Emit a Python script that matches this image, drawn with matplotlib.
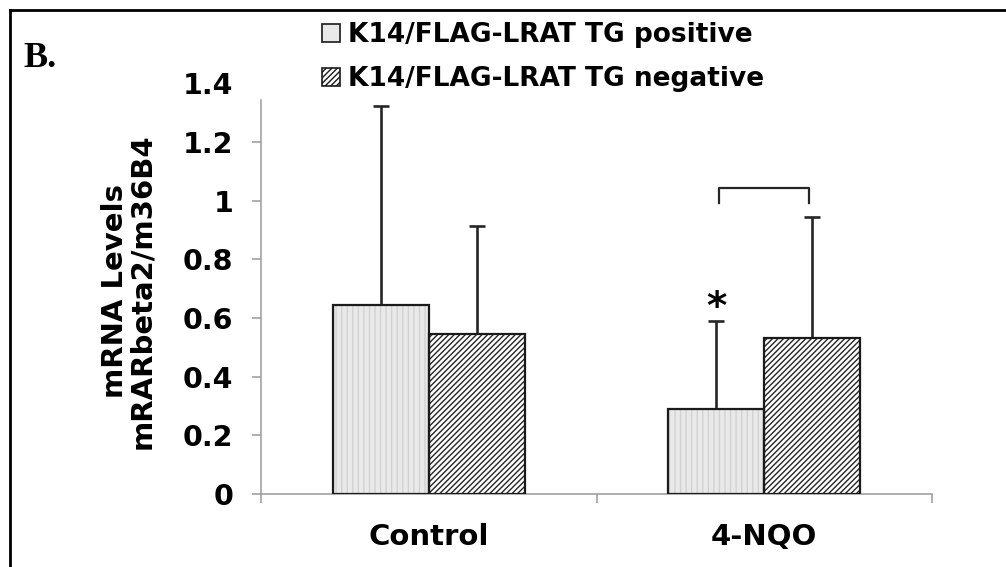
import numpy as np
import matplotlib
matplotlib.use('Agg')
from matplotlib import pyplot as plt
from matplotlib.patches import Patch
from matplotlib.lines import Line2D

categories = ['Control', '4-NQO']
labels = ['K14/FLAG-LRAT TG positive', 'K14/FLAG-LRAT TG negative']
positive = [0.644, 0.291]
positive_err = [0.678, 0.300]
negative = [0.545, 0.533]
negative_err = [0.369, 0.412]
yticks = [0, 0.2, 0.4, 0.6, 0.8, 1.0, 1.2, 1.4]

plt.rcParams['font.family'] = ['DejaVu Sans']
plt.rcParams['font.weight'] = 'bold'
plt.rcParams['hatch.linewidth'] = 1.0

W, H = 1006, 567
fig = plt.figure(figsize=(W / 100, H / 100), dpi=100)
ax = fig.add_axes([261 / W, 1 - 494 / H, (932 - 261) / W, (494 - 83.3) / H])

x = np.arange(len(categories))
bw = 0.286
xp = x - bw / 2
xn = x + bw / 2

# error bars behind the bars (only the upper half shows)
err_kw = dict(fmt='none', ecolor='#262626', elinewidth=1.9, capsize=5.8,
              capthick=1.9, zorder=1)
ax.errorbar(xp, positive, yerr=[np.zeros(2), positive_err], **err_kw)
ax.errorbar(xn, negative, yerr=[np.zeros(2), negative_err], **err_kw)

# fills with texture, then outlines
ax.bar(xp, positive, bw, color='#e9e9e9', edgecolor='#d2d2d2', hatch='|||',
       linewidth=0, zorder=2)
ax.bar(xn, negative, bw, color='white', edgecolor='#262626', hatch='//////',
       linewidth=0, zorder=2)
ax.bar(xp, positive, bw, fill=False, edgecolor='#1a1a1a', linewidth=1.6, zorder=3)
ax.bar(xn, negative, bw, fill=False, edgecolor='#1a1a1a', linewidth=1.6, zorder=3)

# significance marks
ax.text(xp[1], 0.595, '*', ha='center', va='baseline', fontsize=28,
        fontweight='bold', zorder=4)
ax.plot([0.866, 0.866, 1.133, 1.133], [0.992, 1.043, 1.043, 0.992],
        color='#262626', lw=1.6, zorder=4)

ax.set_xlim(-0.5, 1.5)
ax.set_ylim(0, 1.4)
ax.set_yticks(yticks)
ax.set_yticklabels([f'{v:g}' for v in yticks])
ax.yaxis.get_major_ticks()[-1].tick1line.set_visible(False)
ax.tick_params(axis='y', direction='out', length=6.5, width=1.1,
               color='#9a9a9a', pad=13.5, labelsize=20.5)

ax.set_xticks([-0.5, 0.5, 1.5])
ax.set_xticklabels([])
ax.set_xticks(x, minor=True)
ax.set_xticklabels(categories, minor=True)
ax.tick_params(axis='x', which='major', direction='out', length=6.5,
               width=1.1, color='#9a9a9a')
ax.tick_params(axis='x', which='minor', length=0, pad=21, labelsize=21)

for side in ['top', 'right']:
    ax.spines[side].set_visible(False)
for side in ['left', 'bottom']:
    ax.spines[side].set_color('#9a9a9a')
    ax.spines[side].set_linewidth(1.1)
ax.spines['left'].set_bounds(0, 1.343)

ax.set_ylabel('mRNA Levels\nmRARbeta2/m36B4', fontsize=21, fontweight='bold',
              linespacing=0.95)
ax.yaxis.set_label_coords(-0.156, 0.494)

handles = [Patch(facecolor='#e9e9e9', edgecolor='#1a1a1a', linewidth=1.2),
           Patch(facecolor='white', edgecolor='#1a1a1a', hatch='//////', linewidth=1.2)]
fig.legend(handles, labels, loc='upper left', bbox_to_anchor=(322 / W, 1 - 22 / H),
           frameon=False, fontsize=19, handlelength=0.68, handleheight=0.68,
           handletextpad=0.3, labelspacing=0.68, borderpad=0, borderaxespad=0)

fig.text(23 / W, 1 - 67 / H, 'B.', family='Liberation Serif', fontweight='bold',
         fontsize=26, va='baseline')

# partial frame around the panel
fig.add_artist(Line2D([10 / W, 10 / W], [0, 1 - 10 / H], color='black', lw=2))
fig.add_artist(Line2D([10 / W, 1], [1 - 10 / H, 1 - 10 / H], color='black', lw=2))

fig.savefig('out.png', dpi=100)
